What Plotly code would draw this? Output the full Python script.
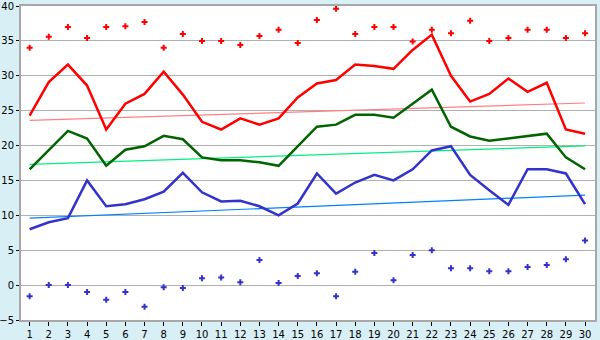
import plotly.graph_objects as go

days = list(range(1, 31))
max_markers = [34.0, 35.6, 37.0, 35.4, 37.0, 37.1, 37.7, 34.0, 36.0, 35.0,
               35.0, 34.4, 35.7, 36.6, 34.7, 38.0, 39.6, 36.0, 37.0, 37.0,
               34.9, 36.6, 36.1, 37.9, 35.0, 35.4, 36.6, 36.6, 35.4, 36.1]
max_line = [24.3, 29.1, 31.6, 28.6, 22.3, 26.0, 27.4, 30.6, 27.3, 23.4,
            22.3, 23.9, 23.0, 23.9, 26.9, 28.9, 29.4, 31.6, 31.4, 31.0,
            33.7, 35.9, 30.0, 26.3, 27.4, 29.6, 27.7, 29.0, 22.3, 21.7]
mean_line = [16.6, 19.3, 22.1, 21.0, 17.1, 19.4, 19.9, 21.4, 20.9, 18.3,
             17.9, 17.9, 17.6, 17.1, 19.9, 22.7, 23.0, 24.4, 24.4, 24.0,
             26.0, 28.0, 22.7, 21.3, 20.7, 21.0, 21.4, 21.7, 18.3, 16.6]
min_line = [8.0, 9.0, 9.6, 15.0, 11.3, 11.6, 12.3, 13.4, 16.1, 13.3,
            12.0, 12.1, 11.3, 10.0, 11.7, 16.0, 13.1, 14.7, 15.8, 15.0,
            16.6, 19.3, 19.9, 15.8, 13.6, 11.5, 16.6, 16.6, 16.0, 11.6]
min_markers = [-1.6, 0.0, 0.0, -1.0, -2.1, -1.0, -3.1, -0.3, -0.4, 1.0,
               1.1, 0.4, 3.6, 0.3, 1.3, 1.7, -1.6, 1.9, 4.6, 0.7,
               4.3, 5.0, 2.4, 2.4, 2.0, 2.0, 2.6, 2.9, 3.7, 6.4]
trend_x = [1, 30]
trend_max = [23.6, 26.1]
trend_mean = [17.3, 19.95]
trend_min = [9.6, 12.9]
y_ticks = [-5, 0, 5, 10, 15, 20, 25, 30, 35, 40]

fig = go.Figure()
fig.add_trace(go.Scatter(x=trend_x, y=trend_max, mode="lines",
                         line=dict(color="#FF8080", width=1.2)))
fig.add_trace(go.Scatter(x=trend_x, y=trend_mean, mode="lines",
                         line=dict(color="#00F080", width=1.2)))
fig.add_trace(go.Scatter(x=trend_x, y=trend_min, mode="lines",
                         line=dict(color="#0080FF", width=1.2)))
fig.add_trace(go.Scatter(x=days, y=max_line, mode="lines",
                         line=dict(color="#FF0000", width=2.5)))
fig.add_trace(go.Scatter(x=days, y=mean_line, mode="lines",
                         line=dict(color="#006400", width=2.5)))
fig.add_trace(go.Scatter(x=days, y=min_line, mode="lines",
                         line=dict(color="#3333CC", width=2.5)))
fig.add_trace(go.Scatter(x=days, y=max_markers, mode="markers",
                         marker=dict(symbol="cross", size=5, color="#FF0000")))
fig.add_trace(go.Scatter(x=days, y=min_markers, mode="markers",
                         marker=dict(symbol="cross", size=5, color="#3333CC")))

fig.update_layout(
    width=600, height=340,
    margin=dict(l=21, r=5, t=6, b=20, autoexpand=False),
    paper_bgcolor="#D9EFF6",
    plot_bgcolor="#FFFFFF",
    showlegend=False,
    font=dict(family="DejaVu Sans", size=10, color="#000000"),
)
fig.update_xaxes(
    range=[0.55, 30.52], tickmode="array", tickvals=days,
    ticktext=[str(d) for d in days], automargin=False,
    showgrid=False, zeroline=False,
    ticks="outside", ticklen=4, tickcolor="#000000",
    showline=True, linecolor="#A8A8A8", linewidth=2, mirror=True,
    tickfont=dict(size=10),
)
fig.update_yaxes(
    range=[-5, 40], tickmode="array", tickvals=y_ticks, automargin=False,
    showgrid=True, gridcolor="#B0B0B0", gridwidth=1, zeroline=False,
    ticks="outside", ticklen=3, tickcolor="#000000",
    showline=True, linecolor="#A8A8A8", linewidth=2, mirror=True,
    tickfont=dict(size=10),
)

fig.write_html("out.html")
